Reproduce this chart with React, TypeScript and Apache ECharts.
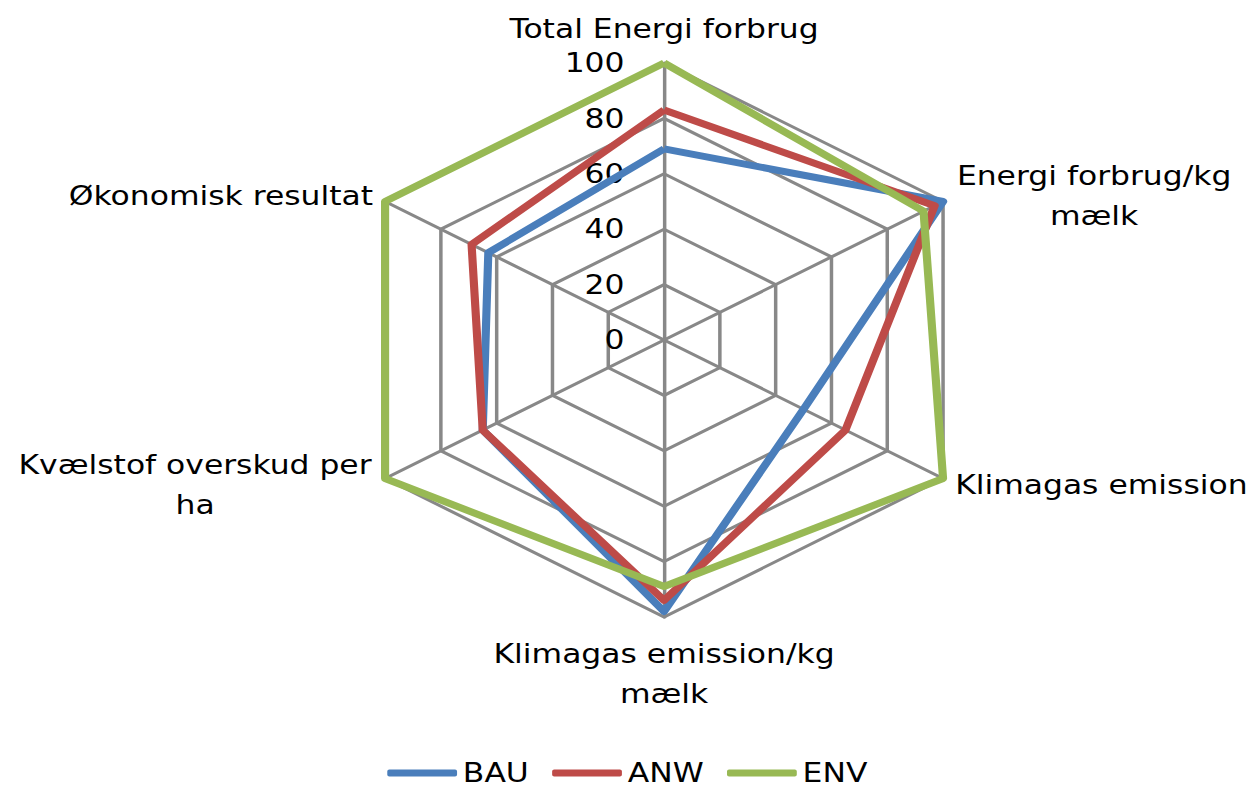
import React, { useEffect, useRef } from "react";
import * as echarts from "echarts";

const indicators = [
  "Total Energi forbrug",
  "Økonomisk resultat",
  "Kvælstof overskud per\nha",
  "Klimagas emission/kg\nmælk",
  "Klimagas emission",
  "Energi forbrug/kg\nmælk",
];
const tickValues = [0, 20, 40, 60, 80, 100];
const seriesNames = ["BAU", "ANW", "ENV"];
const bau = [69, 63, 65, 98, 50, 100];
const anw = [83, 69, 65, 94, 65, 97];
const env = [100, 100, 100, 89, 100, 93];
const colors = ["#4A7EBB", "#BE4B48", "#98B954"];

const STRETCH = 1.163;
const W = 1256;
const H = 791;
const FONT = "DejaVu Sans";
const FS = 27;

function measure(text: string): number {
  const c = document.createElement("canvas").getContext("2d");
  if (!c) return text.length * FS * 0.55;
  c.font = `${FS}px "${FONT}"`;
  return c.measureText(text).width;
}

export default function App() {
  const ref = useRef<HTMLDivElement>(null);
  useEffect(() => {
    document.body.style.margin = "0";
    const chart = echarts.init(ref.current!, null, { renderer: "svg" });
    const rich: Record<string, any> = {};
    indicators.forEach((name, i) => {
      const lines = name.split("\n");
      const w = Math.max(...lines.map(measure));
      rich["n" + i] = {
        width: Math.ceil(w) + 2,
        align: "center",
        fontSize: FS,
        fontFamily: FONT,
        color: "#000",
        lineHeight: 40,
      };
    });
    chart.setOption({
      animation: false,
      backgroundColor: "#ffffff",
      color: colors,
      textStyle: { fontFamily: FONT },
      legend: {
        left: 328,
        top: 754,
        itemWidth: 60,
        itemHeight: 7,
        itemGap: 20,
        icon: "roundRect",
        textStyle: { fontSize: FS, color: "#000", fontFamily: FONT, lineHeight: 28 },
        data: seriesNames,
      },
      radar: {
        center: [571, 340],
        radius: 277,
        startAngle: 90,
        splitNumber: tickValues.length - 1,
        shape: "polygon",
        nameGap: 12,
        axisName: {
          color: "#000",
          fontSize: FS,
          fontFamily: FONT,
          lineHeight: 40,
          rich,
          formatter: (name: string) => {
            const i = indicators.indexOf(name);
            if (name.indexOf("\n") < 0 || i === 3) return name;
            return name
              .split("\n")
              .map((l) => `{n${i}|${l}}`)
              .join("\n");
          },
        },
        axisLine: { lineStyle: { color: "#888888", width: 3 } },
        splitLine: { lineStyle: { color: "#888888", width: 3 } },
        splitArea: { show: false },
        axisTick: { show: false },
        axisLabel: { show: false },
        indicator: indicators.map((name, i) => {
          const base: any = { name, min: tickValues[0], max: tickValues[tickValues.length - 1] };
          if (i === 0) {
            base.nameGap = 14;
            base.axisLabel = {
              show: true,
              color: "#000",
              fontSize: FS,
              fontFamily: FONT,
              margin: 34,
            };
          }
          if (i === 3) base.nameGap = 17;
          return base;
        }),
      },
      series: [
        {
          type: "radar",
          symbol: "none",
          lineStyle: { width: 7 },
          data: [
            { name: seriesNames[0], value: bau, lineStyle: { color: colors[0], width: 7 }, itemStyle: { color: colors[0] } },
            { name: seriesNames[1], value: anw, lineStyle: { color: colors[1], width: 7 }, itemStyle: { color: colors[1] } },
            { name: seriesNames[2], value: env, lineStyle: { color: colors[2], width: 7 }, itemStyle: { color: colors[2] } },
          ],
        },
      ],
    });
    return () => chart.dispose();
  }, []);
  return (
    <div style={{ position: "relative", width: W, height: H, overflow: "hidden", background: "#fff" }}>
      <div
        ref={ref}
        style={{
          position: "absolute",
          left: 0,
          top: 0,
          width: Math.round(W / STRETCH),
          height: H,
          transform: `scaleX(${STRETCH})`,
          transformOrigin: "0 0",
        }}
      />
    </div>
  );
}
